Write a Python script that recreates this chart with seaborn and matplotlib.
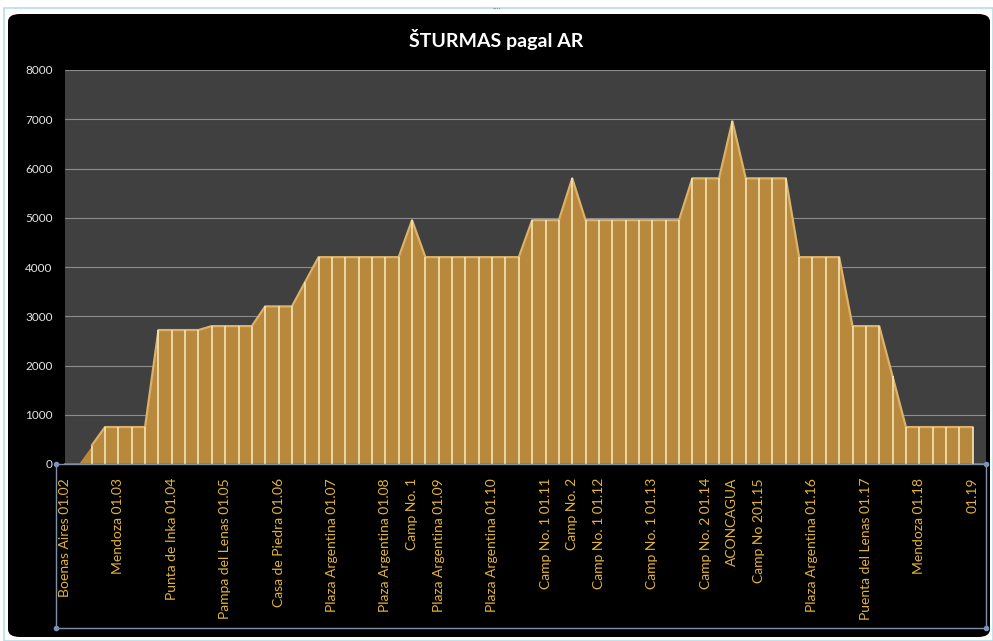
import numpy as np
import pandas as pd
import matplotlib
matplotlib.use("Agg")
import matplotlib.pyplot as plt
from matplotlib.patches import FancyBboxPatch, Rectangle
import seaborn as sns

sns.set_theme(style="dark")
plt.rcParams['font.family'] = ['Lato', 'DejaVu Sans']

# elevation per time slot (m), 4 slots a day
elevation = [0, 0, 375, 750, 750, 750, 750,
             2720, 2720, 2720, 2720,
             2800, 2800, 2800, 2800,
             3200, 3200, 3200, 3700,
             4200, 4200, 4200, 4200, 4200, 4200, 4200,
             4950,
             4200, 4200, 4200, 4200, 4200, 4200, 4200, 4200,
             4950, 4950, 4950,
             5800,
             4950, 4950, 4950, 4950, 4950, 4950, 4950, 4950,
             5800, 5800, 5800,
             6960,
             5800, 5800, 5800, 5800,
             4200, 4200, 4200, 4200,
             2800, 2800, 2800, 1780,
             750, 750, 750, 750, 750, 750]

label_idx = [0, 4, 8, 12, 16, 20, 24, 26, 28, 32, 36, 38, 40, 44, 48, 50,
             52, 56, 60, 64, 68]
label_text = ["Boenas Aires 01.02", "Mendoza 01.03", "Punta de Inka 01.04",
              "Pampa del Lenas 01.05", "Casa de Piedra 01.06",
              "Plaza Argentina 01.07", "Plaza Argentina 01.08", "Camp No. 1",
              "Plaza Argentina 01.09", "Plaza Argentina 01.10",
              "Camp No. 1 01.11", "Camp No. 2", "Camp No. 1 01.12",
              "Camp No. 1 01.13", "Camp No. 2 01.14", "ACONCAGUA",
              "Camp No 201.15", "Plaza Argentina 01.16",
              "Puenta del Lenas 01.17", "Mendoza 01.18", "01.19"]

df = pd.DataFrame({"slot": np.arange(len(elevation)), "elevation": elevation})

W, H = 993, 641
fig = plt.figure(figsize=(W / 100, H / 100), dpi=100)
fig.patch.set_facecolor("white")

# chart background (black rounded box) + light window border
fig.patches.append(Rectangle((4 / W, 0), 989 / W, 1 - 8 / H, transform=fig.transFigure,
                             facecolor="white", edgecolor="#b9dde6", lw=1.2, zorder=-3))
fig.patches.append(FancyBboxPatch((8 / W, 4 / H), 982 / W, 1 - 18 / H,
                                  boxstyle="round,pad=0,rounding_size=0.012",
                                  transform=fig.transFigure, facecolor="black",
                                  edgecolor="none", zorder=-2))

ax = fig.add_axes([65 / W, 1 - 464 / H, 921 / W, 394 / H])
ax.set_facecolor("#404040")

ax.fill_between(df["slot"], 0, df["elevation"], color="#b8883c", lw=0, zorder=2)
# light bevel along the top edge
sns.lineplot(data=df[df["elevation"] > 0], x="slot", y="elevation", ax=ax,
             color="#dcb268", lw=1.6, zorder=3)
ax.vlines(df["slot"], 0, df["elevation"], color="#f4e5b6", lw=1.2, zorder=4)

ax.set_xlim(0, 69)
ax.set_ylim(0, 8000)
ax.set_yticks(np.arange(0, 8001, 1000))
ax.yaxis.grid(True, color="#8c8c8c", lw=0.8)
ax.xaxis.grid(False)
ax.set_axisbelow(True)
ax.set_xticks(label_idx)
ax.set_xticklabels(label_text, rotation=90, color="#e2b43a", fontsize=10)
ax.tick_params(axis="x", length=0, pad=10)
ax.tick_params(axis="y", length=0, pad=9, labelsize=8.5, labelcolor="#e6e6e6")
ax.set_xlabel("")
ax.set_ylabel("")
for s in ["left", "right", "top"]:
    ax.spines[s].set_visible(False)
ax.spines["bottom"].set_color("#7a7a7a")

# x axis selection frame
fig.patches.append(Rectangle((56 / W, 1 - 628 / H), 930 / W, 164 / H,
                             transform=fig.transFigure, facecolor="none",
                             edgecolor="#8090a8", lw=1, zorder=5))
for px, py in [(56, 464), (986, 464), (56, 628), (986, 628)]:
    fig.add_artist(plt.Line2D([px / W], [1 - py / H], marker="o", ms=3,
                              color="#6a9ad0", transform=fig.transFigure))

fig.text(0.5, 1 - 40 / H, "ŠTURMAS pagal AR", ha="center", va="center",
         color="white", fontsize=14, fontweight="bold")
fig.text(0.5, 1 - 9 / H, "····", ha="center", va="center", color="#8090a0", fontsize=6)

plt.savefig("out.png", dpi=100, facecolor=fig.get_facecolor())
